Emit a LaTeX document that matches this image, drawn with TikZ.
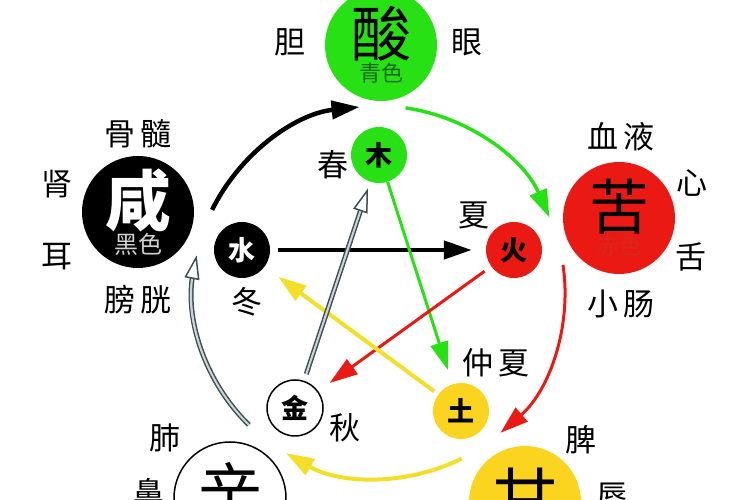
\documentclass[tikz,border=0pt]{standalone}
\usepackage{fontspec}
\newfontfamily\cjk{Noto Sans CJK SC}
\usetikzlibrary{arrows.meta, positioning}
\definecolor{woodgreen}{RGB}{40, 225, 20}
\definecolor{firered}{RGB}{235, 25, 20}
\definecolor{earthyel}{RGB}{250, 212, 30}
\definecolor{arrowyel}{RGB}{245, 222, 40}
\definecolor{slate}{RGB}{60, 80, 85}
\definecolor{slatefill}{RGB}{205, 212, 214}
\definecolor{qinggreen}{RGB}{25, 105, 20}
\definecolor{chired}{RGB}{215, 40, 28}

\begin{document}
\begin{tikzpicture}[x=1pt, y=1pt,
  big/.style={circle, minimum size=112pt, inner sep=0pt, align=center, font=\cjk},
  small/.style={circle, minimum size=56pt, inner sep=0pt, font=\cjk\bfseries\fontsize{27}{27}\selectfont},
  organ/.style={inner sep=0pt, font=\cjk\fontsize{31}{31}\selectfont},
  flow/.style={line width=3pt, -{Triangle[length=28pt, width=18pt]}},
  hollow/.style={slate, line width=1.5pt, double=slatefill, double distance=2pt}]
  \useasboundingbox (0,0) rectangle (750,500);
  \clip (0,0) rectangle (750,500);

  % Big circles: tastes
  \node[big, fill=woodgreen] (suan) at (381,455) {\fontsize{60}{60}\selectfont 酸\\[1pt]\fontsize{22}{22}\selectfont\color{qinggreen}青色};
  \node[big, fill=firered] (ku) at (619,282) {\fontsize{60}{60}\selectfont 苦\\[1pt]\fontsize{22}{22}\selectfont\color{chired}赤色};
  \node[big, fill=black, text=white] (xian) at (138,288) {\fontsize{66}{66}\selectfont\bfseries 咸\\[0pt]\fontsize{24}{24}\selectfont\color{black!18}黑色};
  \node[big, draw=black, line width=1.5pt, fill=white] (xin) at (230,2) {\fontsize{64}{64}\selectfont\raisebox{18pt}{辛}};
  \node[big, fill=earthyel] (gan) at (525,-2) {\fontsize{64}{64}\selectfont\raisebox{15pt}{甘}};

  % Small circles: elements
  \node[small, fill=woodgreen] (mu) at (379,345) {木};
  \node[small, fill=firered] (huo) at (514,250) {火};
  \node[small, fill=black, text=white] (shui) at (242,250) {水};
  \node[small, draw=black, line width=1.5pt, fill=white] (jin) at (295,92) {金};
  \node[small, fill=earthyel] (tu) at (461,89) {土};

  % Organs and seasons
  \node[organ] (dan) at (290,458) {胆};
  \node[organ] (yan) at (467,458) {眼};
  \node[organ] (chun) at (333,335) {春};
  \node[organ] (xueye) at (621,363) {血\hspace{5pt}液};
  \node[organ] (xin1) at (692,317) {心};
  \node[organ] (she) at (691,243) {舌};
  \node[organ] (xiaochang) at (621,196) {小\hspace{5pt}肠};
  \node[organ] (gusui) at (138,366) {骨\hspace{5pt}髓};
  \node[organ] (shen) at (57,316) {肾};
  \node[organ] (er) at (57,243) {耳};
  \node[organ] (pangguang) at (138,200) {膀\hspace{5pt}胱};
  \node[organ] (dong) at (247,198) {冬};
  \node[organ] (xia) at (474,285) {夏};
  \node[organ] (zhongxia) at (496,137) {仲\hspace{5pt}夏};
  \node[organ] (qiu) at (345,72) {秋};
  \node[organ] (fei) at (165,62) {肺};
  \node[organ] (bi) at (149,7) {鼻};
  \node[organ] (pi) at (581,60) {脾};
  \node[organ] (chun2) at (612,4) {唇};

  % Outer ring: generating cycle
  \coordinate (ring) at (379,208);
  \draw[flow, line width=4.5pt] ([shift={(153.8:186)}]ring) arc[start angle=153.8, end angle=96, radius=186];
  \draw[flow, woodgreen, line width=3.5pt] ([shift={(81.8:186)}]ring) arc[start angle=81.8, end angle=23.6, radius=186];
  \draw[flow, firered, line width=3pt] ([shift={(8.4:186)}]ring) arc[start angle=8.4, end angle=-49.2, radius=186];
  \draw[flow, arrowyel, line width=4pt] ([shift={(-63.6:186)}]ring) arc[start angle=-63.6, end angle=-120, radius=186];
  \draw[hollow, shorten >=18pt] ([shift={(225.6:186)}]ring) arc[start angle=225.6, end angle=168.6, radius=186];
  \draw[slatefill, line width=1pt, -{Triangle[open, fill=white, color=slate, length=24pt, width=15pt, line width=1.5pt]}] ([shift={(225.6:186)}]ring) arc[start angle=225.6, end angle=168.6, radius=186];

  % Inner star: restraining cycle
  \draw[flow, line width=4.5pt, shorten <=8pt, shorten >=14pt] (shui) -- (huo);
  \draw[flow, woodgreen, shorten >=15pt] (mu) -- (tu);
  \draw[flow, firered, shorten <=8pt, shorten >=14pt] (huo) -- (jin);
  \draw[flow, arrowyel, line width=4pt, shorten <=5pt, shorten >=17pt] (tu) -- (shui);
  \draw[hollow, shorten <=7pt, shorten >=22pt] (jin) -- (mu);
  \draw[slatefill, line width=1pt, shorten <=7pt, shorten >=7pt, -{Triangle[open, fill=white, color=slate, length=24pt, width=15pt, line width=1.5pt]}] (jin) -- (mu);
\end{tikzpicture}
\end{document}
